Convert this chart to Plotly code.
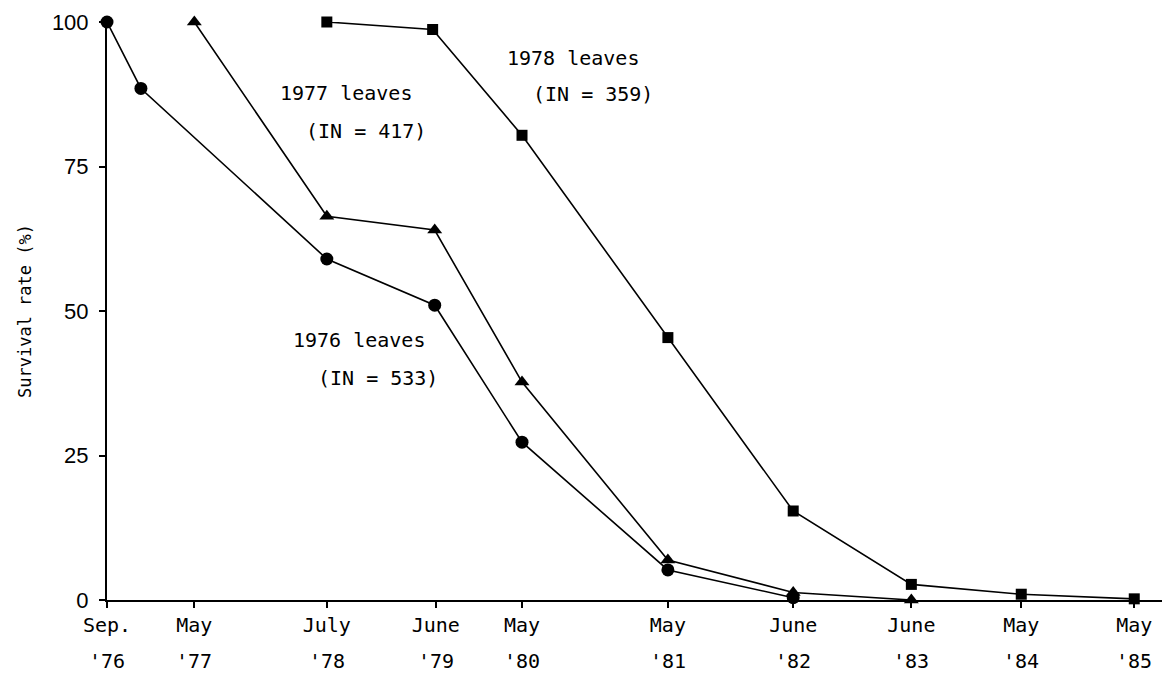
import plotly.graph_objects as go

# Survey dates and their positions along the (non-linear) time axis
tick_pos = [0, 8.5, 21.4, 32.0, 40.4, 54.6, 66.8, 78.3, 89.0, 100]
tick_month = ["Sep.", "May", "July", "June", "May", "May", "June", "June", "May", "May"]
tick_year = ["'76", "'77", "'78", "'79", "'80", "'81", "'82", "'83", "'84", "'85"]

# Leaf cohorts: survey positions and survival rate (%)
x_1976 = [0, 3.3, 21.4, 31.9, 40.4, 54.6, 66.8]
y_1976 = [100, 88.5, 59.0, 51.0, 27.3, 5.2, 0.4]

x_1977 = [8.5, 21.4, 31.9, 40.4, 54.6, 66.8, 78.3]
y_1977 = [100, 66.4, 64.0, 37.7, 6.9, 1.3, 0.0]

x_1978 = [21.4, 31.7, 40.4, 54.6, 66.8, 78.3, 89.0, 100]
y_1978 = [100, 98.7, 80.4, 45.4, 15.4, 2.7, 1.0, 0.2]

# Cohort labels: text, anchor position (axis units)
label_text = ["1978 leaves", "(IN = 359)", "1977 leaves", "(IN = 417)", "1976 leaves", "(IN = 533)"]
label_x = [38.7, 41.3, 16.6, 19.2, 17.9, 20.3]
label_y = [93.7, 87.5, 87.7, 81.1, 45.0, 38.4]

MONO = "DejaVu Sans Mono"
SANS = "Liberation Sans"

fig = go.Figure()

series = [
    (x_1976, y_1976, "circle", 13),
    (x_1977, y_1977, "triangle-up", 13),
    (x_1978, y_1978, "square", 11),
]
for xs, ys, sym, size in series:
    fig.add_trace(go.Scatter(
        x=xs, y=ys, mode="lines+markers",
        line=dict(color="black", width=1.6),
        marker=dict(symbol=sym, size=size, color="black"),
        cliponaxis=False, showlegend=False, hoverinfo="skip",
    ))

for t, xv, yv in zip(label_text, label_x, label_y):
    fig.add_annotation(
        x=xv, y=yv, xref="x", yref="y", text=t, showarrow=False,
        xanchor="left", yanchor="middle",
        font=dict(family=MONO, size=20, color="black"),
    )

for xv, t in zip(tick_pos, tick_year):
    fig.add_annotation(
        x=xv, y=0, xref="x", yref="paper", text=t, showarrow=False,
        xanchor="center", yanchor="middle", yshift=-61,
        font=dict(family=MONO, size=20, color="black"),
    )

fig.update_layout(
    width=1166, height=675,
    margin=dict(l=107, r=4, t=22, b=75),
    paper_bgcolor="white", plot_bgcolor="white",
    xaxis=dict(
        range=[0, 102.7], showgrid=False, zeroline=False,
        showline=True, linecolor="black", linewidth=2,
        ticks="outside", ticklen=6, tickwidth=1.5, tickcolor="black",
        tickmode="array", tickvals=tick_pos, ticktext=tick_month,
        tickfont=dict(family=MONO, size=20, color="black"),
    ),
    yaxis=dict(
        range=[0, 100], showgrid=False, zeroline=False,
        showline=True, linecolor="black", linewidth=2,
        ticks="outside", ticklen=6, tickwidth=1.5, tickcolor="black",
        tickmode="array", tickvals=[0, 25, 50, 75, 100],
        tickfont=dict(family=SANS, size=22, color="black"),
        ticklabelstandoff=6,
        title=dict(text="Survival rate (%)", standoff=16,
                   font=dict(family=MONO, size=17, color="black")),
    ),
)

fig.write_html("out.html")
